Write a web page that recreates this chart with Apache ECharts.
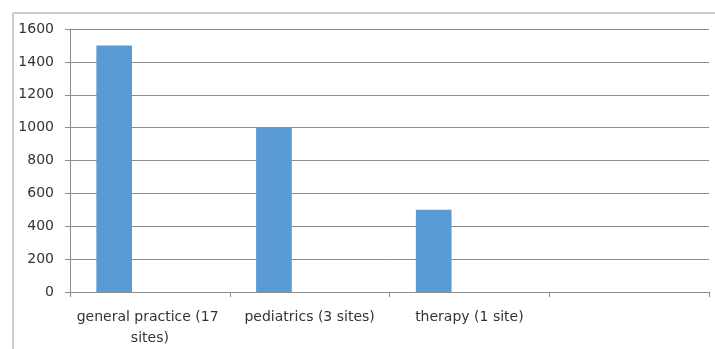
<!DOCTYPE html>
<html>
<head>
<meta charset="utf-8">
<script src="https://cdn.jsdelivr.net/npm/echarts@6/dist/echarts.min.js"></script>
<style>
  html, body { margin: 0; padding: 0; background: #ffffff; }
  #chart { width: 715px; height: 349px; }
</style>
</head>
<body>
<div id="chart"></div>
<script>
// Categories along the x axis (the fourth slot is intentionally blank)
const categories = ['general practice (17 sites)', 'pediatrics (3 sites)', 'therapy (1 site)', ''];
// Values for the plotted series; the other two series carry no data
const series1Values = [1500, 1000, 500, null];
const series2Values = [null, null, null, null];
const series3Values = [null, null, null, null];
// Y axis range and step
const yMin = 0;
const yMax = 1600;
const yStep = 200;

const textColor = '#333333';
const lineColor = '#8c8c8c';
const barColor = '#5b9bd5';
const fontFamily = 'DejaVu Sans';

const chart = echarts.init(document.getElementById('chart'), null, { renderer: 'canvas' });

chart.setOption({
  animation: false,
  backgroundColor: '#ffffff',
  graphic: [{
    type: 'rect',
    left: 10.5, top: 10.5,
    shape: { x: 0, y: 0, width: 720, height: 360 },
    style: { fill: 'none', stroke: '#9a9a9a', lineWidth: 1 },
    silent: true
  }],
  grid: { left: 70, right: 6, top: 29, bottom: 57, containLabel: false },
  xAxis: {
    type: 'category',
    data: categories,
    boundaryGap: true,
    axisLine: { show: true, lineStyle: { color: lineColor, width: 1 } },
    axisTick: { show: true, length: 5, lineStyle: { color: lineColor } },
    axisLabel: {
      color: textColor,
      fontFamily: fontFamily,
      fontSize: 14,
      lineHeight: 21,
      margin: 15,
      width: 158,
      overflow: 'break',
      interval: 0
    },
    splitLine: { show: false }
  },
  yAxis: {
    type: 'value',
    min: yMin,
    max: yMax,
    interval: yStep,
    axisLine: { show: true, lineStyle: { color: lineColor, width: 1 } },
    axisTick: { show: true, length: 5, lineStyle: { color: lineColor } },
    axisLabel: {
      color: textColor,
      fontFamily: fontFamily,
      fontSize: 14,
      margin: 16,
      formatter: function (v) { return String(v); }
    },
    splitLine: { show: true, lineStyle: { color: lineColor, width: 1 } }
  },
  series: [
    { name: 'Series1', type: 'bar', data: series1Values, barGap: '0%', barCategoryGap: '33%', itemStyle: { color: barColor } },
    { name: 'Series2', type: 'bar', data: series2Values, itemStyle: { color: '#ed7d31' } },
    { name: 'Series3', type: 'bar', data: series3Values, itemStyle: { color: '#a5a5a5' } }
  ]
});
</script>
</body>
</html>
